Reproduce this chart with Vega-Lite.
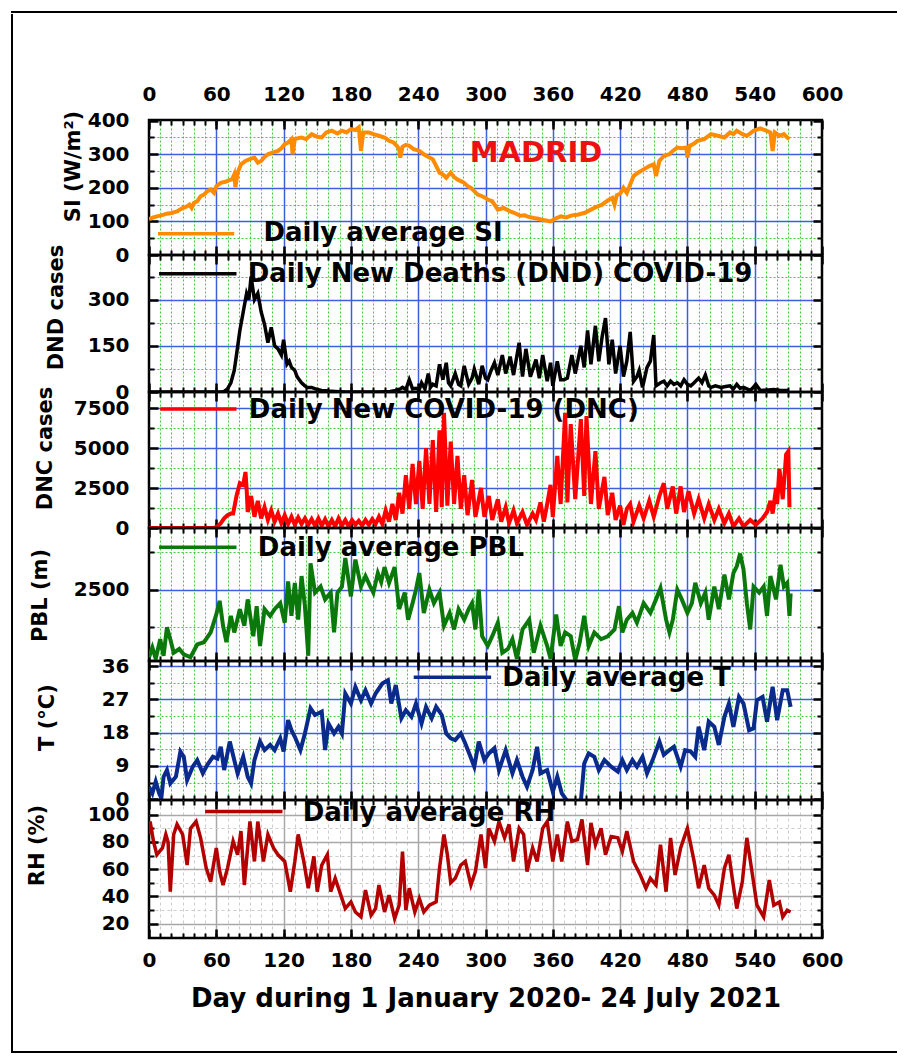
{
"$schema": "https://vega.github.io/schema/vega-lite/v6.json",
"background": "white",
"padding": {"left": 11, "top": 11, "right": 0, "bottom": 0},
"spacing": 0,
"datasets": {
"si": [{"d":0,"v":107},{"d":4,"v":112},{"d":7,"v":115},{"d":11,"v":118},{"d":16,"v":123},{"d":20,"v":125},{"d":25,"v":130},{"d":29,"v":138},{"d":34,"v":145},{"d":36,"v":150},{"d":38,"v":140},{"d":40,"v":155},{"d":43,"v":160},{"d":46,"v":175},{"d":49,"v":180},{"d":52,"v":190},{"d":55,"v":195},{"d":58,"v":185},{"d":60,"v":205},{"d":64,"v":215},{"d":68,"v":218},{"d":71,"v":222},{"d":74,"v":225},{"d":76,"v":240},{"d":77,"v":202},{"d":79,"v":245},{"d":82,"v":270},{"d":86,"v":280},{"d":91,"v":287},{"d":94,"v":290},{"d":97,"v":275},{"d":100,"v":280},{"d":103,"v":292},{"d":106,"v":300},{"d":110,"v":305},{"d":115,"v":310},{"d":118,"v":318},{"d":121,"v":330},{"d":124,"v":335},{"d":127,"v":345},{"d":128,"v":300},{"d":130,"v":345},{"d":133,"v":348},{"d":136,"v":350},{"d":140,"v":345},{"d":145,"v":360},{"d":150,"v":352},{"d":154,"v":350},{"d":158,"v":365},{"d":163,"v":370},{"d":168,"v":362},{"d":172,"v":370},{"d":176,"v":365},{"d":180,"v":375},{"d":184,"v":372},{"d":187,"v":380},{"d":189,"v":310},{"d":191,"v":365},{"d":196,"v":365},{"d":200,"v":360},{"d":205,"v":355},{"d":210,"v":350},{"d":214,"v":340},{"d":218,"v":335},{"d":221,"v":325},{"d":223,"v":315},{"d":224,"v":290},{"d":226,"v":322},{"d":229,"v":328},{"d":232,"v":325},{"d":236,"v":315},{"d":241,"v":310},{"d":245,"v":300},{"d":250,"v":290},{"d":253,"v":285},{"d":255,"v":272},{"d":259,"v":245},{"d":262,"v":240},{"d":265,"v":230},{"d":269,"v":245},{"d":272,"v":232},{"d":275,"v":225},{"d":278,"v":220},{"d":281,"v":215},{"d":284,"v":205},{"d":287,"v":200},{"d":290,"v":190},{"d":293,"v":180},{"d":297,"v":175},{"d":300,"v":170},{"d":302,"v":165},{"d":306,"v":160},{"d":308,"v":150},{"d":311,"v":135},{"d":316,"v":140},{"d":319,"v":135},{"d":322,"v":130},{"d":326,"v":125},{"d":331,"v":117},{"d":335,"v":118},{"d":337,"v":115},{"d":343,"v":110},{"d":347,"v":108},{"d":350,"v":105},{"d":355,"v":102},{"d":358,"v":100},{"d":362,"v":108},{"d":367,"v":115},{"d":372,"v":112},{"d":377,"v":118},{"d":382,"v":120},{"d":388,"v":125},{"d":391,"v":130},{"d":394,"v":135},{"d":400,"v":145},{"d":404,"v":150},{"d":406,"v":155},{"d":410,"v":165},{"d":413,"v":170},{"d":415,"v":150},{"d":417,"v":178},{"d":420,"v":182},{"d":423,"v":200},{"d":426,"v":185},{"d":429,"v":210},{"d":432,"v":235},{"d":436,"v":245},{"d":441,"v":255},{"d":446,"v":265},{"d":450,"v":270},{"d":452,"v":235},{"d":455,"v":280},{"d":459,"v":295},{"d":464,"v":300},{"d":467,"v":310},{"d":471,"v":320},{"d":475,"v":318},{"d":479,"v":320},{"d":480,"v":290},{"d":482,"v":325},{"d":486,"v":332},{"d":489,"v":340},{"d":495,"v":345},{"d":501,"v":360},{"d":507,"v":355},{"d":513,"v":350},{"d":518,"v":365},{"d":521,"v":360},{"d":524,"v":370},{"d":529,"v":360},{"d":533,"v":355},{"d":536,"v":362},{"d":539,"v":370},{"d":545,"v":377},{"d":549,"v":372},{"d":554,"v":365},{"d":556,"v":310},{"d":558,"v":365},{"d":562,"v":355},{"d":566,"v":360},{"d":569,"v":350},{"d":571,"v":345}],
"dnd": [{"d":0,"v":0},{"d":30,"v":0},{"d":60,"v":0},{"d":65,"v":0},{"d":67,"v":2},{"d":70,"v":10},{"d":73,"v":30},{"d":76,"v":70},{"d":78,"v":120},{"d":81,"v":200},{"d":84,"v":260},{"d":87,"v":320},{"d":89,"v":300},{"d":91,"v":375},{"d":94,"v":300},{"d":97,"v":320},{"d":100,"v":260},{"d":103,"v":220},{"d":106,"v":160},{"d":109,"v":210},{"d":112,"v":150},{"d":115,"v":140},{"d":118,"v":120},{"d":120,"v":170},{"d":123,"v":90},{"d":125,"v":100},{"d":127,"v":80},{"d":130,"v":70},{"d":132,"v":50},{"d":134,"v":40},{"d":136,"v":30},{"d":139,"v":20},{"d":141,"v":15},{"d":145,"v":15},{"d":150,"v":8},{"d":154,"v":5},{"d":160,"v":3},{"d":166,"v":2},{"d":175,"v":0},{"d":205,"v":0},{"d":215,"v":2},{"d":220,"v":5},{"d":224,"v":10},{"d":226,"v":15},{"d":229,"v":8},{"d":232,"v":40},{"d":235,"v":10},{"d":238,"v":12},{"d":241,"v":8},{"d":243,"v":30},{"d":246,"v":10},{"d":249,"v":60},{"d":251,"v":15},{"d":253,"v":25},{"d":256,"v":20},{"d":259,"v":90},{"d":262,"v":40},{"d":265,"v":95},{"d":267,"v":30},{"d":269,"v":20},{"d":273,"v":60},{"d":276,"v":25},{"d":278,"v":20},{"d":281,"v":85},{"d":285,"v":25},{"d":288,"v":45},{"d":290,"v":75},{"d":294,"v":25},{"d":297,"v":85},{"d":300,"v":45},{"d":302,"v":40},{"d":305,"v":70},{"d":308,"v":95},{"d":311,"v":55},{"d":315,"v":120},{"d":318,"v":60},{"d":322,"v":115},{"d":325,"v":55},{"d":330,"v":160},{"d":333,"v":50},{"d":336,"v":140},{"d":340,"v":50},{"d":345,"v":105},{"d":348,"v":45},{"d":351,"v":120},{"d":355,"v":35},{"d":358,"v":95},{"d":360,"v":20},{"d":364,"v":100},{"d":367,"v":40},{"d":370,"v":40},{"d":373,"v":45},{"d":377,"v":120},{"d":380,"v":60},{"d":385,"v":150},{"d":388,"v":80},{"d":391,"v":200},{"d":394,"v":90},{"d":398,"v":215},{"d":401,"v":100},{"d":404,"v":180},{"d":407,"v":240},{"d":410,"v":90},{"d":413,"v":170},{"d":416,"v":60},{"d":420,"v":150},{"d":423,"v":50},{"d":426,"v":100},{"d":429,"v":195},{"d":432,"v":35},{"d":435,"v":50},{"d":437,"v":70},{"d":440,"v":15},{"d":444,"v":80},{"d":447,"v":100},{"d":450,"v":185},{"d":452,"v":20},{"d":456,"v":30},{"d":459,"v":35},{"d":462,"v":20},{"d":465,"v":35},{"d":468,"v":25},{"d":471,"v":30},{"d":474,"v":20},{"d":477,"v":40},{"d":480,"v":25},{"d":483,"v":20},{"d":486,"v":30},{"d":490,"v":45},{"d":493,"v":30},{"d":496,"v":55},{"d":499,"v":20},{"d":501,"v":15},{"d":505,"v":20},{"d":510,"v":15},{"d":514,"v":18},{"d":518,"v":20},{"d":521,"v":10},{"d":524,"v":25},{"d":527,"v":12},{"d":530,"v":15},{"d":533,"v":10},{"d":536,"v":5},{"d":538,"v":12},{"d":541,"v":25},{"d":545,"v":5},{"d":550,"v":6},{"d":557,"v":8},{"d":563,"v":5},{"d":570,"v":5}],
"dnc": [{"d":0,"v":0},{"d":30,"v":0},{"d":58,"v":0},{"d":61,"v":100},{"d":64,"v":300},{"d":67,"v":600},{"d":70,"v":800},{"d":73,"v":900},{"d":75,"v":900},{"d":78,"v":2000},{"d":81,"v":2800},{"d":84,"v":2700},{"d":86,"v":3500},{"d":87,"v":2500},{"d":88,"v":1000},{"d":91,"v":2000},{"d":94,"v":700},{"d":97,"v":1700},{"d":100,"v":600},{"d":103,"v":1300},{"d":106,"v":500},{"d":109,"v":1100},{"d":112,"v":400},{"d":115,"v":900},{"d":118,"v":300},{"d":121,"v":800},{"d":124,"v":250},{"d":127,"v":700},{"d":130,"v":200},{"d":133,"v":650},{"d":136,"v":250},{"d":139,"v":600},{"d":142,"v":200},{"d":145,"v":550},{"d":148,"v":150},{"d":151,"v":600},{"d":154,"v":150},{"d":157,"v":550},{"d":160,"v":100},{"d":163,"v":500},{"d":166,"v":100},{"d":169,"v":600},{"d":172,"v":150},{"d":175,"v":500},{"d":178,"v":100},{"d":181,"v":500},{"d":184,"v":200},{"d":187,"v":450},{"d":190,"v":150},{"d":193,"v":500},{"d":196,"v":200},{"d":199,"v":550},{"d":202,"v":250},{"d":205,"v":700},{"d":208,"v":250},{"d":211,"v":1100},{"d":214,"v":400},{"d":217,"v":1500},{"d":220,"v":500},{"d":223,"v":2200},{"d":226,"v":900},{"d":229,"v":3300},{"d":232,"v":1200},{"d":235,"v":4000},{"d":238,"v":1500},{"d":241,"v":4200},{"d":244,"v":1200},{"d":247,"v":5000},{"d":250,"v":1500},{"d":253,"v":5500},{"d":256,"v":1000},{"d":259,"v":6100},{"d":261,"v":1300},{"d":263,"v":7200},{"d":266,"v":1400},{"d":269,"v":5400},{"d":272,"v":1500},{"d":275,"v":4500},{"d":278,"v":1200},{"d":281,"v":3300},{"d":284,"v":800},{"d":288,"v":3000},{"d":291,"v":700},{"d":296,"v":2500},{"d":299,"v":700},{"d":303,"v":2000},{"d":306,"v":500},{"d":311,"v":1800},{"d":314,"v":400},{"d":318,"v":1300},{"d":321,"v":300},{"d":325,"v":1100},{"d":328,"v":300},{"d":333,"v":1000},{"d":337,"v":200},{"d":342,"v":900},{"d":345,"v":500},{"d":349,"v":1600},{"d":352,"v":400},{"d":355,"v":1500},{"d":358,"v":2700},{"d":360,"v":700},{"d":364,"v":4500},{"d":367,"v":1500},{"d":371,"v":7200},{"d":373,"v":1600},{"d":376,"v":6500},{"d":380,"v":1800},{"d":385,"v":6800},{"d":388,"v":2000},{"d":390,"v":7000},{"d":394,"v":1500},{"d":398,"v":4800},{"d":401,"v":1200},{"d":406,"v":3200},{"d":409,"v":800},{"d":413,"v":2200},{"d":416,"v":500},{"d":420,"v":1400},{"d":423,"v":200},{"d":426,"v":1200},{"d":429,"v":1500},{"d":432,"v":400},{"d":437,"v":1400},{"d":441,"v":600},{"d":446,"v":1700},{"d":450,"v":700},{"d":455,"v":2000},{"d":459,"v":2800},{"d":462,"v":1200},{"d":467,"v":2600},{"d":470,"v":900},{"d":474,"v":2600},{"d":477,"v":1000},{"d":481,"v":2300},{"d":486,"v":900},{"d":490,"v":1800},{"d":495,"v":600},{"d":499,"v":1500},{"d":504,"v":500},{"d":508,"v":1200},{"d":513,"v":300},{"d":517,"v":900},{"d":521,"v":100},{"d":526,"v":600},{"d":530,"v":100},{"d":536,"v":500},{"d":541,"v":200},{"d":547,"v":600},{"d":551,"v":1000},{"d":554,"v":1700},{"d":556,"v":900},{"d":559,"v":2500},{"d":560,"v":1500},{"d":562,"v":3700},{"d":565,"v":1800},{"d":568,"v":4600},{"d":570,"v":4800},{"d":571,"v":1300}],
"pbl": [{"d":0,"v":1600},{"d":3,"v":1730},{"d":6,"v":1580},{"d":10,"v":1840},{"d":13,"v":1620},{"d":16,"v":2000},{"d":19,"v":1840},{"d":22,"v":1660},{"d":27,"v":1710},{"d":31,"v":1640},{"d":37,"v":1600},{"d":43,"v":1770},{"d":49,"v":1800},{"d":55,"v":1930},{"d":60,"v":2170},{"d":63,"v":2350},{"d":66,"v":2020},{"d":69,"v":1800},{"d":73,"v":2150},{"d":76,"v":1930},{"d":81,"v":2240},{"d":85,"v":2020},{"d":88,"v":2370},{"d":93,"v":1880},{"d":96,"v":2280},{"d":99,"v":1750},{"d":103,"v":2240},{"d":108,"v":2150},{"d":112,"v":2240},{"d":117,"v":2320},{"d":121,"v":2060},{"d":124,"v":2610},{"d":127,"v":2150},{"d":130,"v":2590},{"d":133,"v":2100},{"d":136,"v":2680},{"d":139,"v":2280},{"d":142,"v":1620},{"d":144,"v":2850},{"d":148,"v":2460},{"d":153,"v":2540},{"d":157,"v":2370},{"d":162,"v":2460},{"d":165,"v":1930},{"d":168,"v":2460},{"d":172,"v":2540},{"d":175,"v":2920},{"d":180,"v":2410},{"d":184,"v":2900},{"d":189,"v":2540},{"d":193,"v":2680},{"d":197,"v":2550},{"d":200,"v":2460},{"d":204,"v":2720},{"d":207,"v":2600},{"d":210,"v":2800},{"d":214,"v":2590},{"d":219,"v":2800},{"d":223,"v":2240},{"d":228,"v":2460},{"d":231,"v":2100},{"d":235,"v":2320},{"d":238,"v":2500},{"d":241,"v":2720},{"d":245,"v":2190},{"d":250,"v":2500},{"d":254,"v":2320},{"d":259,"v":2460},{"d":263,"v":2020},{"d":268,"v":2190},{"d":272,"v":1970},{"d":276,"v":2240},{"d":281,"v":2100},{"d":285,"v":2240},{"d":288,"v":2320},{"d":291,"v":1970},{"d":294,"v":2500},{"d":297,"v":1880},{"d":302,"v":1750},{"d":306,"v":1880},{"d":311,"v":2060},{"d":315,"v":1660},{"d":320,"v":1710},{"d":324,"v":1840},{"d":328,"v":1580},{"d":333,"v":1970},{"d":339,"v":2100},{"d":343,"v":1660},{"d":349,"v":2020},{"d":355,"v":1750},{"d":358,"v":1580},{"d":363,"v":2170},{"d":367,"v":1750},{"d":371,"v":1930},{"d":376,"v":1880},{"d":380,"v":1560},{"d":384,"v":1800},{"d":388,"v":2150},{"d":392,"v":1750},{"d":397,"v":1930},{"d":403,"v":1840},{"d":409,"v":1880},{"d":415,"v":1970},{"d":419,"v":2280},{"d":422,"v":1930},{"d":426,"v":2100},{"d":431,"v":2190},{"d":435,"v":2060},{"d":441,"v":2320},{"d":447,"v":2190},{"d":452,"v":2370},{"d":456,"v":2520},{"d":461,"v":2100},{"d":464,"v":1930},{"d":467,"v":2100},{"d":471,"v":2500},{"d":475,"v":2370},{"d":480,"v":2190},{"d":484,"v":2320},{"d":487,"v":2590},{"d":492,"v":2320},{"d":496,"v":2460},{"d":499,"v":2100},{"d":504,"v":2540},{"d":508,"v":2240},{"d":513,"v":2700},{"d":517,"v":2370},{"d":521,"v":2720},{"d":524,"v":2810},{"d":527,"v":2980},{"d":530,"v":2770},{"d":533,"v":2320},{"d":536,"v":1970},{"d":539,"v":2540},{"d":544,"v":2460},{"d":548,"v":2540},{"d":551,"v":2150},{"d":554,"v":2680},{"d":559,"v":2370},{"d":563,"v":2830},{"d":566,"v":2540},{"d":569,"v":2590},{"d":571,"v":2150},{"d":572,"v":2450}],
"t": [{"d":0,"v":3.4},{"d":3,"v":1.6},{"d":6,"v":4.8},{"d":9,"v":1.6},{"d":11,"v":0.3},{"d":13,"v":6.1},{"d":16,"v":7.9},{"d":19,"v":4.3},{"d":24,"v":6.1},{"d":28,"v":12.9},{"d":31,"v":11.5},{"d":34,"v":5.2},{"d":39,"v":8.8},{"d":43,"v":10.6},{"d":48,"v":7},{"d":52,"v":9.3},{"d":57,"v":11.5},{"d":61,"v":11},{"d":64,"v":14.2},{"d":67,"v":7.9},{"d":72,"v":15.6},{"d":76,"v":10.6},{"d":79,"v":7},{"d":84,"v":11.5},{"d":88,"v":6.1},{"d":91,"v":4.3},{"d":94,"v":10.6},{"d":99,"v":15.6},{"d":103,"v":13.3},{"d":108,"v":14.7},{"d":112,"v":13.3},{"d":117,"v":16.5},{"d":120,"v":12.9},{"d":124,"v":21.4},{"d":127,"v":18.7},{"d":130,"v":16.9},{"d":135,"v":13.3},{"d":139,"v":17.8},{"d":144,"v":24.6},{"d":148,"v":22.8},{"d":154,"v":23.7},{"d":157,"v":13.3},{"d":160,"v":20.5},{"d":165,"v":17.8},{"d":169,"v":19.6},{"d":172,"v":17.8},{"d":175,"v":28.6},{"d":180,"v":25.9},{"d":184,"v":30.4},{"d":189,"v":26.8},{"d":193,"v":29.5},{"d":198,"v":25.9},{"d":202,"v":28.6},{"d":208,"v":31.3},{"d":213,"v":32.2},{"d":216,"v":25.9},{"d":220,"v":30.9},{"d":225,"v":21.9},{"d":229,"v":24.1},{"d":234,"v":22.3},{"d":238,"v":25.9},{"d":243,"v":20.5},{"d":247,"v":25},{"d":252,"v":21.9},{"d":256,"v":25},{"d":261,"v":22.8},{"d":265,"v":17.8},{"d":269,"v":16.5},{"d":273,"v":16},{"d":278,"v":17.8},{"d":282,"v":15.1},{"d":286,"v":12},{"d":290,"v":8.8},{"d":294,"v":15.6},{"d":299,"v":10.6},{"d":303,"v":12.4},{"d":308,"v":13.8},{"d":312,"v":7.9},{"d":318,"v":13.3},{"d":324,"v":7},{"d":328,"v":10.6},{"d":333,"v":6.1},{"d":337,"v":3.4},{"d":342,"v":7.9},{"d":346,"v":14.2},{"d":349,"v":7},{"d":355,"v":7.9},{"d":360,"v":2},{"d":364,"v":6.1},{"d":368,"v":1.6},{"d":373,"v":-0.5},{"d":379,"v":-0.5},{"d":385,"v":-0.5},{"d":388,"v":9.7},{"d":392,"v":12.4},{"d":397,"v":11.5},{"d":401,"v":7.9},{"d":406,"v":10.6},{"d":412,"v":8.8},{"d":418,"v":7.5},{"d":422,"v":10.6},{"d":426,"v":7.9},{"d":431,"v":10.6},{"d":435,"v":8.8},{"d":440,"v":11.5},{"d":444,"v":7},{"d":449,"v":10.6},{"d":455,"v":15.6},{"d":459,"v":12},{"d":464,"v":13.3},{"d":468,"v":14.2},{"d":474,"v":8.8},{"d":478,"v":13.3},{"d":483,"v":12.9},{"d":487,"v":11.5},{"d":490,"v":19.6},{"d":495,"v":13.3},{"d":499,"v":21},{"d":504,"v":19.6},{"d":508,"v":14.7},{"d":513,"v":22.3},{"d":517,"v":25.9},{"d":521,"v":19.6},{"d":526,"v":27.7},{"d":530,"v":25.9},{"d":535,"v":18.7},{"d":539,"v":19.2},{"d":542,"v":26.8},{"d":547,"v":27.7},{"d":551,"v":21},{"d":556,"v":30.4},{"d":560,"v":21.4},{"d":565,"v":29.5},{"d":569,"v":29.5},{"d":572,"v":25}],
"rh": [{"d":0,"v":85.5},{"d":1,"v":95},{"d":4,"v":80.5},{"d":7,"v":70.6},{"d":12,"v":75.6},{"d":15,"v":85.5},{"d":17,"v":80},{"d":19,"v":43.5},{"d":22,"v":85.5},{"d":25,"v":92.9},{"d":30,"v":85.5},{"d":34,"v":63},{"d":37,"v":90},{"d":42,"v":95},{"d":46,"v":83},{"d":51,"v":60.8},{"d":55,"v":50.9},{"d":60,"v":75.6},{"d":63,"v":58.3},{"d":66,"v":48.4},{"d":70,"v":60.8},{"d":75,"v":80.5},{"d":79,"v":70.6},{"d":82,"v":88},{"d":85,"v":48.4},{"d":90,"v":95},{"d":94,"v":65.7},{"d":97,"v":95},{"d":102,"v":65.7},{"d":106,"v":85.5},{"d":111,"v":75.6},{"d":115,"v":70.6},{"d":121,"v":65.7},{"d":126,"v":43.5},{"d":130,"v":65.7},{"d":133,"v":85.5},{"d":138,"v":65.7},{"d":142,"v":46},{"d":147,"v":69.4},{"d":150,"v":43.5},{"d":154,"v":63},{"d":159,"v":70.6},{"d":162,"v":43.5},{"d":166,"v":53.3},{"d":171,"v":41},{"d":175,"v":31.1},{"d":180,"v":36},{"d":184,"v":28.6},{"d":189,"v":25},{"d":193,"v":44.7},{"d":198,"v":26.2},{"d":202,"v":31.1},{"d":205,"v":48.4},{"d":210,"v":28.6},{"d":214,"v":41},{"d":219,"v":23.7},{"d":223,"v":33.6},{"d":226,"v":73},{"d":229,"v":29.9},{"d":232,"v":46},{"d":237,"v":28.6},{"d":241,"v":38.5},{"d":245,"v":28.6},{"d":250,"v":33.6},{"d":256,"v":36},{"d":259,"v":60.8},{"d":263,"v":85.5},{"d":266,"v":70.6},{"d":269,"v":50},{"d":273,"v":53.3},{"d":278,"v":63},{"d":282,"v":65.7},{"d":287,"v":48.4},{"d":291,"v":58.3},{"d":296,"v":85.5},{"d":300,"v":60.8},{"d":303,"v":90},{"d":308,"v":80.5},{"d":312,"v":95},{"d":317,"v":83},{"d":321,"v":92.9},{"d":325,"v":65.7},{"d":330,"v":90},{"d":334,"v":85.5},{"d":337,"v":58.3},{"d":342,"v":75.6},{"d":346,"v":65.7},{"d":351,"v":90},{"d":355,"v":95},{"d":360,"v":65.7},{"d":364,"v":85.5},{"d":368,"v":65.7},{"d":373,"v":95},{"d":377,"v":80.5},{"d":382,"v":81.7},{"d":386,"v":96.5},{"d":391,"v":63},{"d":394,"v":94},{"d":398,"v":78},{"d":403,"v":90},{"d":407,"v":70.6},{"d":412,"v":84},{"d":418,"v":83},{"d":422,"v":73},{"d":426,"v":88},{"d":432,"v":65.7},{"d":438,"v":55.8},{"d":443,"v":46},{"d":447,"v":53.3},{"d":452,"v":48.4},{"d":456,"v":78},{"d":461,"v":43.5},{"d":465,"v":83},{"d":469,"v":55.8},{"d":474,"v":75.6},{"d":477,"v":83},{"d":480,"v":90},{"d":486,"v":65.7},{"d":490,"v":46},{"d":495,"v":63},{"d":499,"v":46},{"d":504,"v":41},{"d":508,"v":33.6},{"d":513,"v":60.8},{"d":517,"v":70.6},{"d":520,"v":53.3},{"d":524,"v":31.1},{"d":529,"v":50.9},{"d":533,"v":83},{"d":538,"v":55.8},{"d":542,"v":33.6},{"d":548,"v":25},{"d":553,"v":52},{"d":557,"v":33.6},{"d":562,"v":36},{"d":565,"v":25},{"d":569,"v":29.9},{"d":572,"v":28.6}]
},
"vconcat": [
{"width": 884, "height": 0.01, "view": {"stroke": "black", "strokeWidth": 2}, "data": {"values": [{}]}, "mark": {"type": "point", "opacity": 0, "size": 0}},
{"spacing": 0, "hconcat": [
 {"width": 0.01, "height": 1035, "view": {"stroke": "black", "strokeWidth": 2}, "data": {"values": [{}]}, "mark": {"type": "point", "opacity": 0, "size": 0}},
 {"width": 11, "height": 1, "view": {"stroke": null}, "data": {"values": [{}]}, "mark": {"type": "point", "opacity": 0, "size": 0}},
 {"spacing": 0, "bounds": "flush", "vconcat": [
  {"width": 673, "height": 105, "view": {"stroke": null}, "data": {"values": [{}]}, "mark": {"type": "point", "opacity": 0, "size": 0}},
  {"width": 673, "height": 135, "data": {"name": "si"},
   "resolve": {"axis": {"x": "independent", "y": "independent"}},
   "layer": [
    {"mark": {"type": "line", "strokeOpacity": 0}, "encoding": {
      "x": {"field": "d", "type": "quantitative", "scale": {"domain": [0, 600], "nice": false, "zero": false}, "axis": {"orient": "bottom", "values": [10,20,30,40,50,60,70,80,90,100,110,120,130,140,150,160,170,180,190,200,210,220,230,240,250,260,270,280,290,300,310,320,330,340,350,360,370,380,390,400,410,420,430,440,450,460,470,480,490,500,510,520,530,540,550,560,570,580,590], "labels": false, "tickSize": -5, "tickWidth": 2, "grid": true, "gridColor": "#3bd13b", "gridDash": [2, 2], "gridWidth": 1, "title": null}},
      "y": {"field": "v", "type": "quantitative", "scale": {"domain": [0, 402], "nice": false, "zero": false}, "axis": {"orient": "left", "values": [50,150,250,350], "labels": false, "tickSize": -5, "tickWidth": 2, "grid": true, "gridColor": "#3bd13b", "gridDash": [2, 2], "gridWidth": 1, "title": null}}}},
    {"mark": {"type": "line", "strokeOpacity": 0}, "encoding": {
      "x": {"field": "d", "type": "quantitative", "scale": {"domain": [0, 600], "nice": false, "zero": false}, "axis": {"orient": "bottom", "values": [0,60,120,180,240,300,360,420,480,540,600], "labels": false, "tickSize": -9, "tickWidth": 2.5, "grid": true, "gridColor": "#3d5fdc", "gridWidth": 1.5, "gridOpacity": {"condition": {"test": "datum.value<=0||datum.value>=600", "value": 0}, "value": 1}, "title": null}},
      "y": {"field": "v", "type": "quantitative", "scale": {"domain": [0, 402], "nice": false, "zero": false}, "axis": {"orient": "left", "values": [0,100,200,300,400], "format": "d", "labelPadding": 29, "tickSize": -9, "tickWidth": 2.5, "grid": true, "gridColor": "#3d5fdc", "gridWidth": 1.5, "gridOpacity": {"condition": {"test": "datum.value<=0||datum.value>=400", "value": 0}, "value": 1}, "title": "SI (W/m²)", "titlePadding": 4, "titleY": 46}}}},
    {"mark": {"type": "line", "strokeOpacity": 0}, "encoding": {
      "x": {"field": "d", "type": "quantitative", "scale": {"domain": [0, 600], "nice": false, "zero": false}, "axis": {"orient": "top", "values": [10,20,30,40,50,60,70,80,90,100,110,120,130,140,150,160,170,180,190,200,210,220,230,240,250,260,270,280,290,300,310,320,330,340,350,360,370,380,390,400,410,420,430,440,450,460,470,480,490,500,510,520,530,540,550,560,570,580,590], "labels": false, "tickSize": -5, "tickWidth": 2, "grid": false, "title": null}},
      "y": {"field": "v", "type": "quantitative", "scale": {"domain": [0, 402], "nice": false, "zero": false}, "axis": {"orient": "right", "values": [50,150,250,350], "labels": false, "tickSize": -5, "tickWidth": 2, "grid": false, "title": null}}}},
    {"mark": {"type": "line", "color": "#ff8c00", "strokeWidth": 4, "clip": true}, "encoding": {
      "x": {"field": "d", "type": "quantitative", "scale": {"domain": [0, 600], "nice": false, "zero": false}, "axis": {"orient": "top", "values": [0,60,120,180,240,300,360,420,480,540,600], "format": "d", "labelPadding": 25, "tickSize": -9, "tickWidth": 2.5, "grid": false, "title": null}},
      "y": {"field": "v", "type": "quantitative", "scale": {"domain": [0, 402], "nice": false, "zero": false}, "axis": {"orient": "right", "values": [0,100,200,300,400], "labels": false, "tickSize": -9, "tickWidth": 2.5, "grid": false, "title": null}}}},
    {"data": {"values": [{}]}, "mark": {"type": "rule", "color": "#ff8c00", "strokeWidth": 3.5}, "encoding": {"x": {"datum": 8, "type": "quantitative", "axis": null}, "x2": {"datum": 76}, "y": {"datum": 63, "type": "quantitative", "axis": null}}},
    {"data": {"values": [{}]}, "mark": {"type": "text", "text": "Daily average SI", "align": "left", "baseline": "middle", "font": "DejaVu Sans", "fontWeight": "bold", "fontSize": 26, "color": "black"}, "encoding": {"x": {"datum": 102, "type": "quantitative", "axis": null}, "y": {"datum": 65, "type": "quantitative", "axis": null}}},
    {"data": {"values": [{}]}, "mark": {"type": "text", "text": "MADRID", "align": "center", "baseline": "middle", "font": "DejaVu Sans", "fontWeight": "bold", "fontSize": 29, "color": "#ee1111"}, "encoding": {"x": {"datum": 345, "type": "quantitative", "axis": null}, "y": {"datum": 304, "type": "quantitative", "axis": null}}}
   ]},
  {"width": 673, "height": 137, "data": {"name": "dnd"},
   "resolve": {"axis": {"x": "independent", "y": "independent"}},
   "layer": [
    {"mark": {"type": "line", "strokeOpacity": 0}, "encoding": {
      "x": {"field": "d", "type": "quantitative", "scale": {"domain": [0, 600], "nice": false, "zero": false}, "axis": {"orient": "bottom", "values": [10,20,30,40,50,60,70,80,90,100,110,120,130,140,150,160,170,180,190,200,210,220,230,240,250,260,270,280,290,300,310,320,330,340,350,360,370,380,390,400,410,420,430,440,450,460,470,480,490,500,510,520,530,540,550,560,570,580,590], "labels": false, "tickSize": -5, "tickWidth": 2, "grid": true, "gridColor": "#3bd13b", "gridDash": [2, 2], "gridWidth": 1, "title": null}},
      "y": {"field": "v", "type": "quantitative", "scale": {"domain": [0, 445], "nice": false, "zero": false}, "axis": {"orient": "left", "values": [75,225,375], "labels": false, "tickSize": -5, "tickWidth": 2, "grid": true, "gridColor": "#3bd13b", "gridDash": [2, 2], "gridWidth": 1, "title": null}}}},
    {"mark": {"type": "line", "strokeOpacity": 0}, "encoding": {
      "x": {"field": "d", "type": "quantitative", "scale": {"domain": [0, 600], "nice": false, "zero": false}, "axis": {"orient": "bottom", "values": [0,60,120,180,240,300,360,420,480,540,600], "labels": false, "tickSize": -9, "tickWidth": 2.5, "grid": true, "gridColor": "#3d5fdc", "gridWidth": 1.5, "gridOpacity": {"condition": {"test": "datum.value<=0||datum.value>=600", "value": 0}, "value": 1}, "title": null}},
      "y": {"field": "v", "type": "quantitative", "scale": {"domain": [0, 445], "nice": false, "zero": false}, "axis": {"orient": "left", "values": [0,150,300], "format": "d", "labelPadding": 29, "tickSize": -9, "tickWidth": 2.5, "grid": true, "gridColor": "#3d5fdc", "gridWidth": 1.5, "gridOpacity": {"condition": {"test": "datum.value<=0", "value": 0}, "value": 1}, "title": "DND cases", "titlePadding": 21, "titleY": 52}}}},
    {"mark": {"type": "line", "strokeOpacity": 0}, "encoding": {
      "x": {"field": "d", "type": "quantitative", "scale": {"domain": [0, 600], "nice": false, "zero": false}, "axis": {"orient": "top", "values": [10,20,30,40,50,60,70,80,90,100,110,120,130,140,150,160,170,180,190,200,210,220,230,240,250,260,270,280,290,300,310,320,330,340,350,360,370,380,390,400,410,420,430,440,450,460,470,480,490,500,510,520,530,540,550,560,570,580,590], "labels": false, "tickSize": -5, "tickWidth": 2, "grid": false, "title": null}},
      "y": {"field": "v", "type": "quantitative", "scale": {"domain": [0, 445], "nice": false, "zero": false}, "axis": {"orient": "right", "values": [75,225,375], "labels": false, "tickSize": -5, "tickWidth": 2, "grid": false, "title": null}}}},
    {"mark": {"type": "line", "color": "black", "strokeWidth": 3.5, "clip": true}, "encoding": {
      "x": {"field": "d", "type": "quantitative", "scale": {"domain": [0, 600], "nice": false, "zero": false}, "axis": {"orient": "top", "values": [0,60,120,180,240,300,360,420,480,540,600], "labels": false, "tickSize": -9, "tickWidth": 2.5, "grid": false, "title": null}},
      "y": {"field": "v", "type": "quantitative", "scale": {"domain": [0, 445], "nice": false, "zero": false}, "axis": {"orient": "right", "values": [0,150,300], "labels": false, "tickSize": -9, "tickWidth": 2.5, "grid": false, "title": null}}}},
    {"data": {"values": [{}]}, "mark": {"type": "rule", "color": "black", "strokeWidth": 3.5}, "encoding": {"x": {"datum": 9, "type": "quantitative", "axis": null}, "x2": {"datum": 78}, "y": {"datum": 384, "type": "quantitative", "axis": null}}},
    {"data": {"values": [{}]}, "mark": {"type": "text", "text": "Daily New Deaths (DND) COVID-19", "align": "left", "baseline": "middle", "font": "DejaVu Sans", "fontWeight": "bold", "fontSize": 26, "color": "black"}, "encoding": {"x": {"datum": 88, "type": "quantitative", "axis": null}, "y": {"datum": 382, "type": "quantitative", "axis": null}}}
   ]},
  {"width": 673, "height": 136, "data": {"name": "dnc"},
   "resolve": {"axis": {"x": "independent", "y": "independent"}},
   "layer": [
    {"mark": {"type": "line", "strokeOpacity": 0}, "encoding": {
      "x": {"field": "d", "type": "quantitative", "scale": {"domain": [0, 600], "nice": false, "zero": false}, "axis": {"orient": "bottom", "values": [10,20,30,40,50,60,70,80,90,100,110,120,130,140,150,160,170,180,190,200,210,220,230,240,250,260,270,280,290,300,310,320,330,340,350,360,370,380,390,400,410,420,430,440,450,460,470,480,490,500,510,520,530,540,550,560,570,580,590], "labels": false, "tickSize": -5, "tickWidth": 2, "grid": true, "gridColor": "#3bd13b", "gridDash": [2, 2], "gridWidth": 1, "title": null}},
      "y": {"field": "v", "type": "quantitative", "scale": {"domain": [0, 8500], "nice": false, "zero": false}, "axis": {"orient": "left", "values": [1250,3750,6250], "labels": false, "tickSize": -5, "tickWidth": 2, "grid": true, "gridColor": "#3bd13b", "gridDash": [2, 2], "gridWidth": 1, "title": null}}}},
    {"mark": {"type": "line", "strokeOpacity": 0}, "encoding": {
      "x": {"field": "d", "type": "quantitative", "scale": {"domain": [0, 600], "nice": false, "zero": false}, "axis": {"orient": "bottom", "values": [0,60,120,180,240,300,360,420,480,540,600], "labels": false, "tickSize": -9, "tickWidth": 2.5, "grid": true, "gridColor": "#3d5fdc", "gridWidth": 1.5, "gridOpacity": {"condition": {"test": "datum.value<=0||datum.value>=600", "value": 0}, "value": 1}, "title": null}},
      "y": {"field": "v", "type": "quantitative", "scale": {"domain": [0, 8500], "nice": false, "zero": false}, "axis": {"orient": "left", "values": [0,2500,5000,7500], "format": "d", "labelPadding": 29, "tickSize": -9, "tickWidth": 2.5, "grid": true, "gridColor": "#3d5fdc", "gridWidth": 1.5, "gridOpacity": {"condition": {"test": "datum.value<=0", "value": 0}, "value": 1}, "title": "DNC cases", "titlePadding": 18, "titleY": 56}}}},
    {"mark": {"type": "line", "strokeOpacity": 0}, "encoding": {
      "x": {"field": "d", "type": "quantitative", "scale": {"domain": [0, 600], "nice": false, "zero": false}, "axis": {"orient": "top", "values": [10,20,30,40,50,60,70,80,90,100,110,120,130,140,150,160,170,180,190,200,210,220,230,240,250,260,270,280,290,300,310,320,330,340,350,360,370,380,390,400,410,420,430,440,450,460,470,480,490,500,510,520,530,540,550,560,570,580,590], "labels": false, "tickSize": -5, "tickWidth": 2, "grid": false, "title": null}},
      "y": {"field": "v", "type": "quantitative", "scale": {"domain": [0, 8500], "nice": false, "zero": false}, "axis": {"orient": "right", "values": [1250,3750,6250], "labels": false, "tickSize": -5, "tickWidth": 2, "grid": false, "title": null}}}},
    {"mark": {"type": "line", "color": "#ff0000", "strokeWidth": 4, "clip": true}, "encoding": {
      "x": {"field": "d", "type": "quantitative", "scale": {"domain": [0, 600], "nice": false, "zero": false}, "axis": {"orient": "top", "values": [0,60,120,180,240,300,360,420,480,540,600], "labels": false, "tickSize": -9, "tickWidth": 2.5, "grid": false, "title": null}},
      "y": {"field": "v", "type": "quantitative", "scale": {"domain": [0, 8500], "nice": false, "zero": false}, "axis": {"orient": "right", "values": [0,2500,5000,7500], "labels": false, "tickSize": -9, "tickWidth": 2.5, "grid": false, "title": null}}}},
    {"data": {"values": [{}]}, "mark": {"type": "rule", "color": "#ff0000", "strokeWidth": 3.5}, "encoding": {"x": {"datum": 10, "type": "quantitative", "axis": null}, "x2": {"datum": 78}, "y": {"datum": 7430, "type": "quantitative", "axis": null}}},
    {"data": {"values": [{}]}, "mark": {"type": "text", "text": "Daily New COVID-19 (DNC)", "align": "left", "baseline": "middle", "font": "DejaVu Sans", "fontWeight": "bold", "fontSize": 26, "color": "black"}, "encoding": {"x": {"datum": 89, "type": "quantitative", "axis": null}, "y": {"datum": 7350, "type": "quantitative", "axis": null}}}
   ]},
  {"width": 673, "height": 133, "data": {"name": "pbl"},
   "resolve": {"axis": {"x": "independent", "y": "independent"}},
   "layer": [
    {"mark": {"type": "line", "strokeOpacity": 0}, "encoding": {
      "x": {"field": "d", "type": "quantitative", "scale": {"domain": [0, 600], "nice": false, "zero": false}, "axis": {"orient": "bottom", "values": [10,20,30,40,50,60,70,80,90,100,110,120,130,140,150,160,170,180,190,200,210,220,230,240,250,260,270,280,290,300,310,320,330,340,350,360,370,380,390,400,410,420,430,440,450,460,470,480,490,500,510,520,530,540,550,560,570,580,590], "labels": false, "tickSize": -5, "tickWidth": 2, "grid": true, "gridColor": "#3bd13b", "gridDash": [2, 2], "gridWidth": 1, "title": null}},
      "y": {"field": "v", "type": "quantitative", "scale": {"domain": [1550, 3320], "nice": false, "zero": false}, "axis": {"orient": "left", "values": [2000,3000], "labels": false, "tickSize": -5, "tickWidth": 2, "grid": true, "gridColor": "#3bd13b", "gridDash": [2, 2], "gridWidth": 1, "title": null}}}},
    {"mark": {"type": "line", "strokeOpacity": 0}, "encoding": {
      "x": {"field": "d", "type": "quantitative", "scale": {"domain": [0, 600], "nice": false, "zero": false}, "axis": {"orient": "bottom", "values": [0,60,120,180,240,300,360,420,480,540,600], "labels": false, "tickSize": -9, "tickWidth": 2.5, "grid": true, "gridColor": "#3d5fdc", "gridWidth": 1.5, "gridOpacity": {"condition": {"test": "datum.value<=0||datum.value>=600", "value": 0}, "value": 1}, "title": null}},
      "y": {"field": "v", "type": "quantitative", "scale": {"domain": [1550, 3320], "nice": false, "zero": false}, "axis": {"orient": "left", "values": [2500], "format": "d", "labelPadding": 29, "tickSize": -9, "tickWidth": 2.5, "grid": true, "gridColor": "#3d5fdc", "gridWidth": 1.5, "title": "PBL (m)", "titlePadding": 23, "titleY": 67}}}},
    {"mark": {"type": "line", "strokeOpacity": 0}, "encoding": {
      "x": {"field": "d", "type": "quantitative", "scale": {"domain": [0, 600], "nice": false, "zero": false}, "axis": {"orient": "top", "values": [10,20,30,40,50,60,70,80,90,100,110,120,130,140,150,160,170,180,190,200,210,220,230,240,250,260,270,280,290,300,310,320,330,340,350,360,370,380,390,400,410,420,430,440,450,460,470,480,490,500,510,520,530,540,550,560,570,580,590], "labels": false, "tickSize": -5, "tickWidth": 2, "grid": false, "title": null}},
      "y": {"field": "v", "type": "quantitative", "scale": {"domain": [1550, 3320], "nice": false, "zero": false}, "axis": {"orient": "right", "values": [2000,3000], "labels": false, "tickSize": -5, "tickWidth": 2, "grid": false, "title": null}}}},
    {"mark": {"type": "line", "color": "#0a780a", "strokeWidth": 4, "clip": true}, "encoding": {
      "x": {"field": "d", "type": "quantitative", "scale": {"domain": [0, 600], "nice": false, "zero": false}, "axis": {"orient": "top", "values": [0,60,120,180,240,300,360,420,480,540,600], "labels": false, "tickSize": -9, "tickWidth": 2.5, "grid": false, "title": null}},
      "y": {"field": "v", "type": "quantitative", "scale": {"domain": [1550, 3320], "nice": false, "zero": false}, "axis": {"orient": "right", "values": [2500], "labels": false, "tickSize": -9, "tickWidth": 2.5, "grid": false, "title": null}}}},
    {"data": {"values": [{}]}, "mark": {"type": "rule", "color": "#0a780a", "strokeWidth": 3.5}, "encoding": {"x": {"datum": 9, "type": "quantitative", "axis": null}, "x2": {"datum": 78}, "y": {"datum": 3063, "type": "quantitative", "axis": null}}},
    {"data": {"values": [{}]}, "mark": {"type": "text", "text": "Daily average PBL", "align": "left", "baseline": "middle", "font": "DejaVu Sans", "fontWeight": "bold", "fontSize": 26, "color": "black"}, "encoding": {"x": {"datum": 97, "type": "quantitative", "axis": null}, "y": {"datum": 3050, "type": "quantitative", "axis": null}}}
   ]},
  {"width": 673, "height": 139, "data": {"name": "t"},
   "resolve": {"axis": {"x": "independent", "y": "independent"}},
   "layer": [
    {"mark": {"type": "line", "strokeOpacity": 0}, "encoding": {
      "x": {"field": "d", "type": "quantitative", "scale": {"domain": [0, 600], "nice": false, "zero": false}, "axis": {"orient": "bottom", "values": [10,20,30,40,50,60,70,80,90,100,110,120,130,140,150,160,170,180,190,200,210,220,230,240,250,260,270,280,290,300,310,320,330,340,350,360,370,380,390,400,410,420,430,440,450,460,470,480,490,500,510,520,530,540,550,560,570,580,590], "labels": false, "tickSize": -5, "tickWidth": 2, "grid": true, "gridColor": "#3bd13b", "gridDash": [2, 2], "gridWidth": 1, "title": null}},
      "y": {"field": "v", "type": "quantitative", "scale": {"domain": [-0.2, 37.4], "nice": false, "zero": false}, "axis": {"orient": "left", "values": [4.5,13.5,22.5,31.5], "labels": false, "tickSize": -5, "tickWidth": 2, "grid": true, "gridColor": "#3bd13b", "gridDash": [2, 2], "gridWidth": 1, "title": null}}}},
    {"mark": {"type": "line", "strokeOpacity": 0}, "encoding": {
      "x": {"field": "d", "type": "quantitative", "scale": {"domain": [0, 600], "nice": false, "zero": false}, "axis": {"orient": "bottom", "values": [0,60,120,180,240,300,360,420,480,540,600], "labels": false, "tickSize": -9, "tickWidth": 2.5, "grid": true, "gridColor": "#3d5fdc", "gridWidth": 1.5, "gridOpacity": {"condition": {"test": "datum.value<=0||datum.value>=600", "value": 0}, "value": 1}, "title": null}},
      "y": {"field": "v", "type": "quantitative", "scale": {"domain": [-0.2, 37.4], "nice": false, "zero": false}, "axis": {"orient": "left", "values": [0,9,18,27,36], "format": "d", "labelPadding": 29, "tickSize": -9, "tickWidth": 2.5, "grid": true, "gridColor": "#3d5fdc", "gridWidth": 1.5, "gridOpacity": {"condition": {"test": "datum.value<=0", "value": 0}, "value": 1}, "title": "T (°C)", "titlePadding": 44, "titleY": 56}}}},
    {"mark": {"type": "line", "strokeOpacity": 0}, "encoding": {
      "x": {"field": "d", "type": "quantitative", "scale": {"domain": [0, 600], "nice": false, "zero": false}, "axis": {"orient": "top", "values": [10,20,30,40,50,60,70,80,90,100,110,120,130,140,150,160,170,180,190,200,210,220,230,240,250,260,270,280,290,300,310,320,330,340,350,360,370,380,390,400,410,420,430,440,450,460,470,480,490,500,510,520,530,540,550,560,570,580,590], "labels": false, "tickSize": -5, "tickWidth": 2, "grid": false, "title": null}},
      "y": {"field": "v", "type": "quantitative", "scale": {"domain": [-0.2, 37.4], "nice": false, "zero": false}, "axis": {"orient": "right", "values": [4.5,13.5,22.5,31.5], "labels": false, "tickSize": -5, "tickWidth": 2, "grid": false, "title": null}}}},
    {"mark": {"type": "line", "color": "#0a2a8c", "strokeWidth": 4, "clip": true}, "encoding": {
      "x": {"field": "d", "type": "quantitative", "scale": {"domain": [0, 600], "nice": false, "zero": false}, "axis": {"orient": "top", "values": [0,60,120,180,240,300,360,420,480,540,600], "labels": false, "tickSize": -9, "tickWidth": 2.5, "grid": false, "title": null}},
      "y": {"field": "v", "type": "quantitative", "scale": {"domain": [-0.2, 37.4], "nice": false, "zero": false}, "axis": {"orient": "right", "values": [0,9,18,27,36], "labels": false, "tickSize": -9, "tickWidth": 2.5, "grid": false, "title": null}}}},
    {"data": {"values": [{}]}, "mark": {"type": "rule", "color": "#0a2a8c", "strokeWidth": 3.5}, "encoding": {"x": {"datum": 236, "type": "quantitative", "axis": null}, "x2": {"datum": 305}, "y": {"datum": 33, "type": "quantitative", "axis": null}}},
    {"data": {"values": [{}]}, "mark": {"type": "text", "text": "Daily average  T", "align": "left", "baseline": "middle", "font": "DejaVu Sans", "fontWeight": "bold", "fontSize": 26, "color": "black"}, "encoding": {"x": {"datum": 315, "type": "quantitative", "axis": null}, "y": {"datum": 32.7, "type": "quantitative", "axis": null}}}
   ]},
  {"width": 673, "height": 138, "data": {"name": "rh"},
   "resolve": {"axis": {"x": "independent", "y": "independent"}},
   "layer": [
    {"mark": {"type": "line", "strokeOpacity": 0}, "encoding": {
      "x": {"field": "d", "type": "quantitative", "scale": {"domain": [0, 600], "nice": false, "zero": false}, "axis": {"orient": "bottom", "values": [10,20,30,40,50,60,70,80,90,100,110,120,130,140,150,160,170,180,190,200,210,220,230,240,250,260,270,280,290,300,310,320,330,340,350,360,370,380,390,400,410,420,430,440,450,460,470,480,490,500,510,520,530,540,550,560,570,580,590], "labels": false, "tickSize": -5, "tickWidth": 2, "grid": true, "gridColor": "#cccccc", "gridDash": [3, 3], "gridWidth": 1, "title": null}},
      "y": {"field": "v", "type": "quantitative", "scale": {"domain": [9.5, 110.8], "nice": false, "zero": false}, "axis": {"orient": "left", "values": [30,50,70,90], "labels": false, "tickSize": -5, "tickWidth": 2, "grid": true, "gridColor": "#cccccc", "gridDash": [3, 3], "gridWidth": 1, "title": null}}}},
    {"mark": {"type": "line", "strokeOpacity": 0}, "encoding": {
      "x": {"field": "d", "type": "quantitative", "scale": {"domain": [0, 600], "nice": false, "zero": false}, "axis": {"orient": "bottom", "values": [0,60,120,180,240,300,360,420,480,540,600], "format": "d", "labelPadding": 21, "tickSize": -9, "tickWidth": 2.5, "grid": true, "gridColor": "#a8a8a8", "gridWidth": 1.5, "gridOpacity": {"condition": {"test": "datum.value<=0||datum.value>=600", "value": 0}, "value": 1}, "title": "Day during 1 January 2020- 24 July 2021", "titleFontSize": 26, "titlePadding": 15}},
      "y": {"field": "v", "type": "quantitative", "scale": {"domain": [9.5, 110.8], "nice": false, "zero": false}, "axis": {"orient": "left", "values": [20,40,60,80,100], "format": "d", "labelPadding": 29, "tickSize": -9, "tickWidth": 2.5, "grid": true, "gridColor": "#a8a8a8", "gridWidth": 1.5, "title": "RH (%)", "titlePadding": 40, "titleY": 45}}}},
    {"mark": {"type": "line", "strokeOpacity": 0}, "encoding": {
      "x": {"field": "d", "type": "quantitative", "scale": {"domain": [0, 600], "nice": false, "zero": false}, "axis": {"orient": "top", "values": [10,20,30,40,50,60,70,80,90,100,110,120,130,140,150,160,170,180,190,200,210,220,230,240,250,260,270,280,290,300,310,320,330,340,350,360,370,380,390,400,410,420,430,440,450,460,470,480,490,500,510,520,530,540,550,560,570,580,590], "labels": false, "tickSize": -5, "tickWidth": 2, "grid": false, "title": null}},
      "y": {"field": "v", "type": "quantitative", "scale": {"domain": [9.5, 110.8], "nice": false, "zero": false}, "axis": {"orient": "right", "values": [30,50,70,90], "labels": false, "tickSize": -5, "tickWidth": 2, "grid": false, "title": null}}}},
    {"mark": {"type": "line", "color": "#b30000", "strokeWidth": 3.5, "clip": true}, "encoding": {
      "x": {"field": "d", "type": "quantitative", "scale": {"domain": [0, 600], "nice": false, "zero": false}, "axis": {"orient": "top", "values": [0,60,120,180,240,300,360,420,480,540,600], "labels": false, "tickSize": -9, "tickWidth": 2.5, "grid": false, "title": null}},
      "y": {"field": "v", "type": "quantitative", "scale": {"domain": [9.5, 110.8], "nice": false, "zero": false}, "axis": {"orient": "right", "values": [20,40,60,80,100], "labels": false, "tickSize": -9, "tickWidth": 2.5, "grid": false, "title": null}}}},
    {"data": {"values": [{}]}, "mark": {"type": "rule", "color": "#b30000", "strokeWidth": 3.5}, "encoding": {"x": {"datum": 50, "type": "quantitative", "axis": null}, "x2": {"datum": 119}, "y": {"datum": 102.3, "type": "quantitative", "axis": null}}},
    {"data": {"values": [{}]}, "mark": {"type": "text", "text": "Daily average RH", "align": "left", "baseline": "middle", "font": "DejaVu Sans", "fontWeight": "bold", "fontSize": 26, "color": "black"}, "encoding": {"x": {"datum": 137, "type": "quantitative", "axis": null}, "y": {"datum": 101.5, "type": "quantitative", "axis": null}}}
   ]},
  {"width": 673, "height": 111, "view": {"stroke": null}, "data": {"values": [{}]}, "mark": {"type": "point", "opacity": 0, "size": 0}}
 ]},
 {"width": 73, "height": 1, "view": {"stroke": null}, "data": {"values": [{}]}, "mark": {"type": "point", "opacity": 0, "size": 0}},
 {"width": 0.01, "height": 1035, "view": {"stroke": "black", "strokeWidth": 2}, "data": {"values": [{}]}, "mark": {"type": "point", "opacity": 0, "size": 0}}
]},
{"width": 884, "height": 0.01, "view": {"stroke": "black", "strokeWidth": 2}, "data": {"values": [{}]}, "mark": {"type": "point", "opacity": 0, "size": 0}}
],
"config": {
 "view": {"stroke": "black", "strokeWidth": 2.5},
 "axis": {"labelFont": "DejaVu Sans", "labelFontWeight": "bold", "labelFontSize": 20, "labelColor": "black", "titleFont": "DejaVu Sans", "titleFontWeight": "bold", "titleFontSize": 21, "titleColor": "black", "tickColor": "black", "domain": false, "labelFlush": false, "labelOverlap": false}
}
}
